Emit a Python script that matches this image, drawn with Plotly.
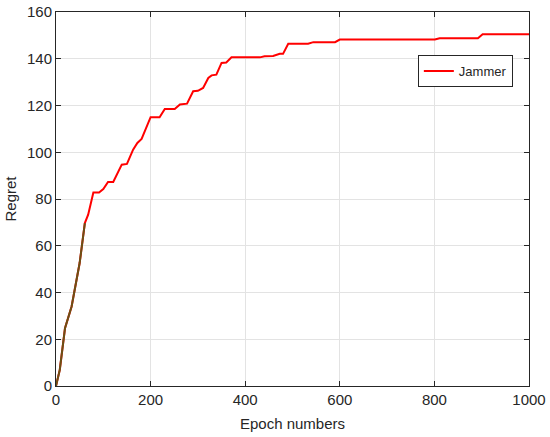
import plotly.graph_objects as go

epochs = [0, 8, 19, 33, 50, 61, 68, 75, 79, 91, 100, 110, 121, 139, 150, 163, 172, 181, 191, 200,
          219, 230, 251, 262, 277, 290, 300, 311, 322, 329, 339, 350, 360, 371, 410, 431, 441, 459,
          473, 480, 491, 533, 544, 590, 600, 801, 811, 892, 902, 1000]
regret = [0, 6.9, 24.7, 34, 52.6, 69.7, 73.3, 79.5, 82.8, 82.8, 84.3, 87.3, 87.3, 94.7, 95, 101.1,
          104, 105.7, 110.4, 115, 115, 118.5, 118.5, 120.4, 120.8, 126.1, 126.3, 127.5, 131.8,
          132.9, 133.2, 138.2, 138.4, 140.6, 140.6, 140.6, 141.1, 141.2, 142.1, 142.1, 146.4, 146.4,
          147.1, 147.1, 148.2, 148.2, 148.8, 148.8, 150.5, 150.5]

early_n = 6  # first segment shows in a darker colour in the original

fig = go.Figure()
fig.add_trace(go.Scatter(x=epochs, y=regret, mode="lines", name="Jammer",
                         line=dict(color="#ff0000", width=2)))
fig.add_trace(go.Scatter(x=epochs[:early_n], y=regret[:early_n], mode="lines", showlegend=False,
                         line=dict(color="#6b5015", width=2)))

axis_common = dict(showgrid=True, gridcolor="#e3e3e3", gridwidth=1, zeroline=False,
                   showline=True, linecolor="#262626", linewidth=1, mirror="ticks",
                   ticks="inside", ticklen=5, tickcolor="#262626", automargin=False,
                   tickfont=dict(family="Liberation Sans, Arial", size=15, color="#262626"))

fig.update_xaxes(range=[0, 1000], dtick=200,
                 title=dict(text="Epoch numbers", standoff=11,
                            font=dict(family="Liberation Sans, Arial", size=15, color="#262626")),
                 **axis_common)
fig.update_yaxes(range=[0, 160], dtick=20,
                 title=dict(text="Regret", standoff=6,
                            font=dict(family="Liberation Sans, Arial", size=15, color="#262626")),
                 **axis_common)

fig.update_layout(width=550, height=437, margin=dict(l=56, r=21, t=12, b=51),
                  paper_bgcolor="white", plot_bgcolor="white",
                  legend=dict(x=0.765, y=0.885, xanchor="left", yanchor="top",
                              bgcolor="white", bordercolor="#262626", borderwidth=1,
                              font=dict(family="Liberation Sans, Arial", size=13, color="#262626"),
                              itemwidth=30, tracegroupgap=0))

# drop the default 8px body margin so the figure sits at the window's corner
fig.write_html("out.html", config={"displayModeBar": False},
               post_script="document.body.style.margin='0';")
